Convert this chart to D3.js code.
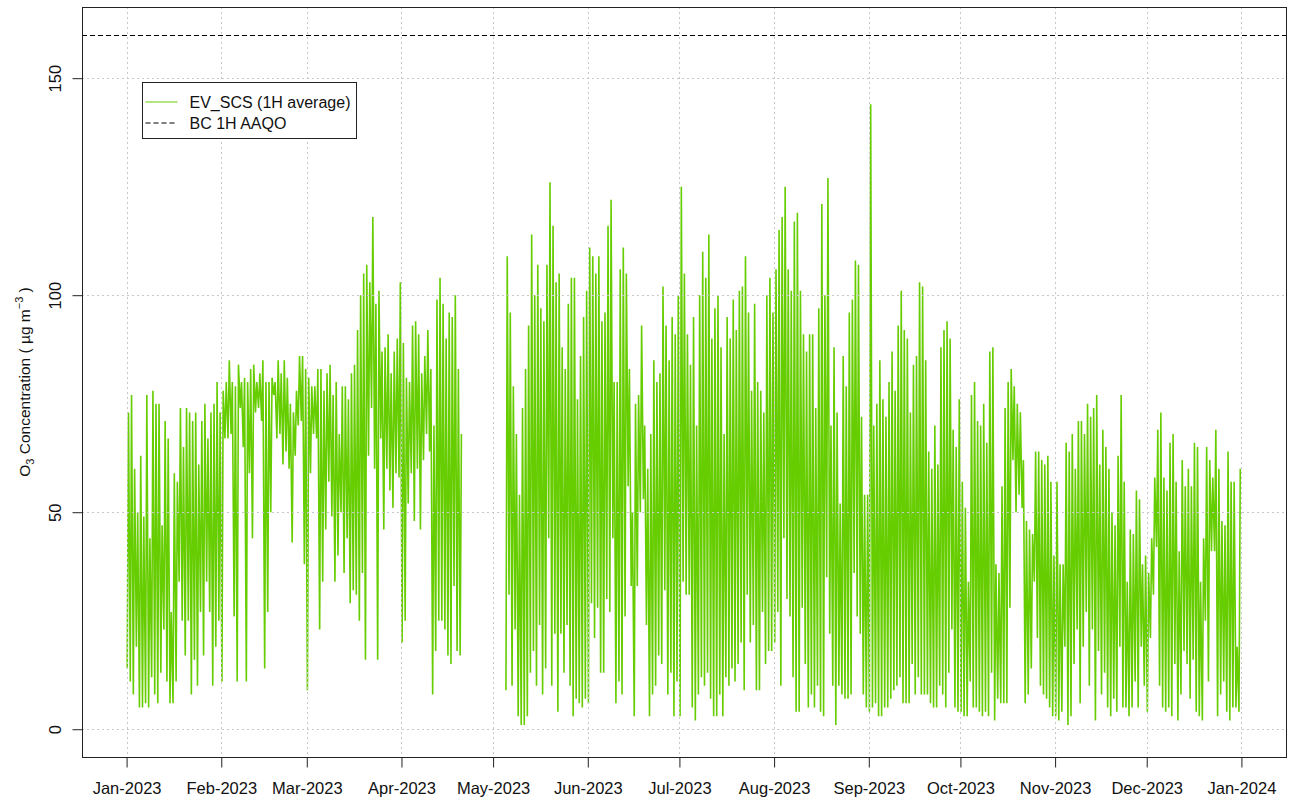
<!DOCTYPE html>
<html>
<head>
<meta charset="utf-8">
<script src="https://cdn.jsdelivr.net/npm/d3@7"></script>
<style>
  body { margin: 0; background: #fff; }
  svg { font-family: "Liberation Sans", Arial, sans-serif; }
</style>
</head>
<body>
<div id="chart"></div>
<script>
// daily high / low of the hourly O3 series (ug/m3), one row per month
// null = no data
const dailyMax = [
  73,77,60,50,63,49,77,44,78,75,75,47,71,67,27,59,57,74,65,74,73,71,73,61,71,75,67,73,75,80,73,
  78,80,85,80,79,84,80,81,80,83,84,80,82,85,80,80,81,80,85,82,85,81,75,73,78,86,86,83,
  81,79,79,83,83,78,82,84,77,80,68,79,79,76,82,84,92,100,105,107,103,118,98,101,87,88,91,82,87,90,103,
  89,81,80,93,94,91,82,86,92,83,70,99,104,98,90,96,95,100,83,68,null,null,null,null,null,null,null,null,null,null,
  null,null,null,null,109,96,79,68,54,74,83,93,114,100,107,97,94,107,126,116,103,105,88,83,98,104,104,76,86,95,101,
  111,109,105,109,94,96,116,122,80,80,106,111,105,83,50,75,77,93,70,60,68,85,80,82,102,93,85,95,91,100,
  125,105,91,84,95,70,100,110,104,114,90,97,100,88,68,95,90,99,92,101,102,109,96,78,98,80,78,73,100,104,96,
  106,115,118,125,106,101,117,119,101,91,87,91,91,74,97,121,100,127,70,88,73,52,86,79,96,99,108,107,72,54,54,
  144,70,75,85,76,72,80,87,78,93,101,92,90,73,84,86,103,102,85,64,60,70,61,88,92,94,90,69,65,76,
  57,51,34,77,80,71,70,75,66,87,88,38,36,56,74,80,83,79,75,73,62,48,46,45,64,64,62,61,63,57,40,
  57,38,38,66,64,68,60,71,71,68,75,72,74,77,61,69,65,60,50,47,63,77,57,34,46,45,55,53,38,40,
  36,44,58,69,73,58,55,66,68,57,41,62,56,60,56,66,65,34,44,65,62,58,69,60,48,47,64,57,57,19,60
];
const dailyMin = [
  14,11,8,19,5,5,6,5,12,8,6,13,23,11,6,6,11,34,25,17,25,8,16,10,27,17,34,27,10,19,25,
  11,67,67,68,26,11,74,65,11,59,44,73,74,71,14,27,50,77,67,68,61,64,60,43,63,70,71,38,
  9,59,68,67,23,34,46,57,49,34,40,50,36,44,29,32,31,25,36,16,63,74,60,16,67,46,60,55,51,59,58,
  20,25,52,59,48,60,46,62,68,64,8,18,25,25,23,17,15,33,18,17,null,null,null,null,null,null,null,null,null,null,
  null,null,null,null,9,31,10,23,3,1,1,3,13,18,10,24,8,14,44,10,22,4,22,13,24,10,3,7,6,5,7,
  6,29,21,28,13,13,30,27,44,6,11,8,26,56,33,3,33,50,53,24,3,8,10,17,15,32,8,13,3,11,
  3,34,31,31,5,2,8,12,10,13,7,3,3,8,3,12,10,14,11,15,20,9,31,20,24,9,9,27,15,18,18,
  20,27,10,44,30,26,12,4,4,28,15,5,8,5,10,4,3,35,22,10,1,10,8,7,7,8,36,26,22,8,5,
  4,5,6,3,3,5,5,7,9,10,12,6,6,6,15,8,12,8,8,8,6,5,5,10,8,5,13,23,5,4,
  4,3,3,11,5,5,4,3,4,3,13,2,7,6,6,6,28,62,50,54,51,6,8,14,34,21,10,8,7,5,3,
  3,2,4,19,1,3,15,23,6,19,27,10,23,2,18,8,13,5,3,7,4,19,5,5,3,5,11,5,19,10,
  4,21,31,42,10,5,4,5,3,15,2,8,18,15,7,16,4,3,2,25,11,41,41,3,8,11,4,2,5,5,4
];
const yTicks = [0, 50, 100, 150];
const aaqo = 160;
const seriesLabels = ["EV_SCS (1H average)", "BC 1H AAQO"];

//=========================================================================
// Dimensions
//=========================================================================
var width = 1293, height = 799;
var box = { left: 82, right: 1286, top: 7, bottom: 757 };
var green = "#66CD00", gridCol = "#c8c8c8";
var fs = 16.5;

var svg = d3.select("#chart").append("svg")
  .attr("width", width).attr("height", height);

//=========================================================================
// Data -> points (low in the early morning, high in the afternoon)
//=========================================================================
var start = Date.UTC(2023, 0, 1), dayMs = 864e5;
var points = [];
dailyMax.forEach(function (hi, d) {
  var lo = dailyMin[d];
  if (hi == null) { points.push(null); return; }
  points.push({ t: new Date(start + (d + 5 / 24) * dayMs), v: lo });
  points.push({ t: new Date(start + (d + 15 / 24) * dayMs), v: hi });
});

//=========================================================================
// Scales (R style 4% padding)
//=========================================================================
var t0 = start, t1 = start + 365 * dayMs, pad = (t1 - t0) * 0.04;
var x = d3.scaleUtc()
  .domain([new Date(t0 - pad), new Date(t1 + pad)])
  .range([box.left, box.right]);

var y = d3.scaleLinear()
  .domain([0 - 160 * 0.04, aaqo + 160 * 0.04])
  .range([box.bottom, box.top]);

var months = d3.utcMonth.range(new Date(t0), new Date(t1 + 1));

//=========================================================================
// Series
//=========================================================================
var line = d3.line()
  .defined(function (p) { return p != null; })
  .x(function (p) { return x(p.t); })
  .y(function (p) { return y(p.v); });

svg.append("path")
  .datum(points)
  .attr("d", line)
  .attr("fill", "none")
  .attr("stroke", green)
  .attr("stroke-width", 1.6)
  .attr("stroke-linejoin", "bevel");

//=========================================================================
// Grid (drawn on top, like grid() after plot())
//=========================================================================
var grid = svg.append("g")
  .attr("stroke", gridCol).attr("stroke-dasharray", "2,3");
grid.selectAll(".gv").data(months).enter().append("line")
  .attr("x1", function (m) { return Math.round(x(m)) + 0.5; })
  .attr("x2", function (m) { return Math.round(x(m)) + 0.5; })
  .attr("y1", box.top).attr("y2", box.bottom);
grid.selectAll(".gh").data(yTicks).enter().append("line")
  .attr("y1", function (v) { return Math.round(y(v)) + 0.5; })
  .attr("y2", function (v) { return Math.round(y(v)) + 0.5; })
  .attr("x1", box.left).attr("x2", box.right);

// AAQO reference line
svg.append("line")
  .attr("x1", box.left).attr("x2", box.right)
  .attr("y1", Math.round(y(aaqo)) + 0.5).attr("y2", Math.round(y(aaqo)) + 0.5)
  .attr("stroke", "#000").attr("stroke-width", 1.2).attr("stroke-dasharray", "5,3");

//=========================================================================
// Axes
//=========================================================================
svg.append("rect")
  .attr("x", box.left + 0.5).attr("y", box.top + 0.5)
  .attr("width", box.right - box.left).attr("height", box.bottom - box.top)
  .attr("fill", "none").attr("stroke", "#222");

var xAxis = svg.append("g")
  .attr("transform", `translate(0,${box.bottom + 0.5})`)
  .call(d3.axisBottom(x).tickValues(months).tickSize(10).tickPadding(15)
    .tickFormat(d3.utcFormat("%b-%Y")));
xAxis.select(".domain").remove();
xAxis.selectAll(".tick line").attr("stroke", "#222");
xAxis.selectAll("text").attr("font-size", fs).attr("fill", "#111")
  .attr("font-family", "Liberation Sans, Arial, sans-serif");

var yAxis = svg.append("g")
  .attr("transform", `translate(${box.left + 0.5},0)`)
  .call(d3.axisLeft(y).tickValues(yTicks).tickSize(10).tickFormat(d3.format("d")));
yAxis.select(".domain").remove();
yAxis.selectAll(".tick line").attr("stroke", "#222");
yAxis.selectAll("text")
  .attr("x", null).attr("dy", null)
  .attr("transform", "translate(-22,0) rotate(-90)")
  .attr("text-anchor", "middle")
  .attr("font-size", fs).attr("fill", "#111")
  .attr("font-family", "Liberation Sans, Arial, sans-serif");

// y title: O3 Concentration ( ug m-3 )
var yt = svg.append("text")
  .attr("transform", `translate(30,${(box.top + box.bottom) / 2}) rotate(-90)`)
  .attr("text-anchor", "middle")
  .attr("font-size", 15.5).attr("fill", "#111");
yt.append("tspan").text("O");
yt.append("tspan").attr("font-size", 11).attr("dy", 4).text("3");
yt.append("tspan").attr("dy", -4).text(" Concentration ( \u00b5g m");
yt.append("tspan").attr("font-size", 11).attr("dy", -7).text("\u22123");
yt.append("tspan").attr("dy", 7).text(" )");

//=========================================================================
// Legend
//=========================================================================
var lg = svg.append("g").attr("transform", "translate(142.5,82.5)");
lg.append("rect").attr("width", 214).attr("height", 56)
  .attr("fill", "#fff").attr("stroke", "#222");
var legendData = [
  { label: seriesLabels[0], color: green, dash: null, dy: 19.5 },
  { label: seriesLabels[1], color: "#000", dash: "5,3", dy: 40.5 }
];
var rows = lg.selectAll(".row").data(legendData).enter().append("g");
rows.append("line")
  .attr("x1", 3).attr("x2", 35)
  .attr("y1", function (d) { return d.dy; }).attr("y2", function (d) { return d.dy; })
  .attr("stroke", function (d) { return d.color; })
  .attr("stroke-dasharray", function (d) { return d.dash; });
rows.append("text")
  .attr("x", 47).attr("y", function (d) { return d.dy + 5.5; })
  .attr("font-size", 16).attr("fill", "#111")
  .text(function (d) { return d.label; });
</script>
</body>
</html>
